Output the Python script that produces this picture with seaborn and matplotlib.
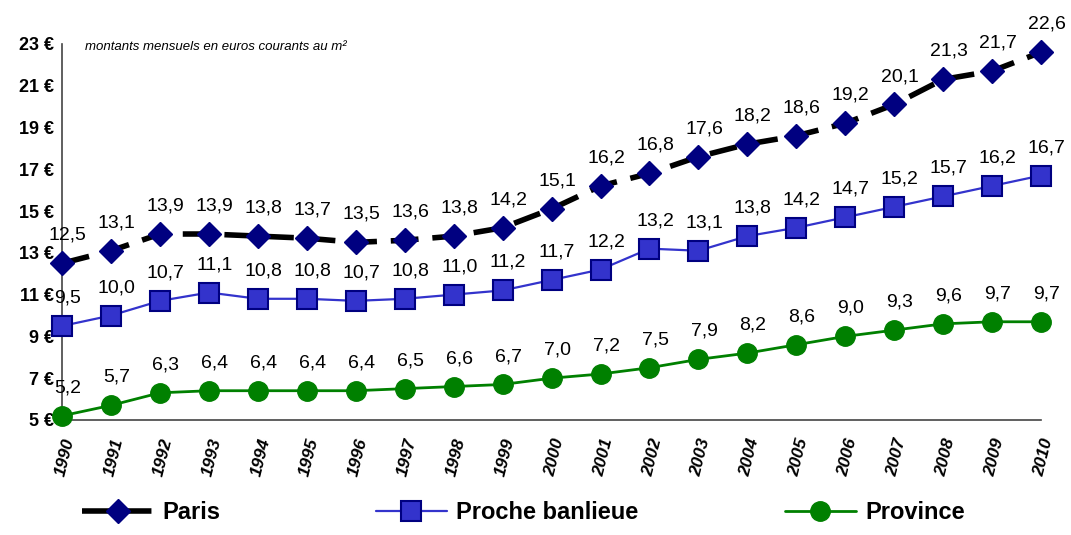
import matplotlib
matplotlib.use("Agg")
import matplotlib.pyplot as plt
import seaborn as sns
import pandas as pd

years = list(range(1990, 2011))
paris = [12.5, 13.1, 13.9, 13.9, 13.8, 13.7, 13.5, 13.6, 13.8, 14.2, 15.1,
         16.2, 16.8, 17.6, 18.2, 18.6, 19.2, 20.1, 21.3, 21.7, 22.6]
banlieue = [9.5, 10.0, 10.7, 11.1, 10.8, 10.8, 10.7, 10.8, 11.0, 11.2, 11.7,
            12.2, 13.2, 13.1, 13.8, 14.2, 14.7, 15.2, 15.7, 16.2, 16.7]
province = [5.2, 5.7, 6.3, 6.4, 6.4, 6.4, 6.4, 6.5, 6.6, 6.7, 7.0,
            7.2, 7.5, 7.9, 8.2, 8.6, 9.0, 9.3, 9.6, 9.7, 9.7]
y_ticks = [5, 7, 9, 11, 13, 15, 17, 19, 21, 23]
subtitle = "montants mensuels en euros courants au m²"

sns.set_style("white")
plt.rcParams["font.family"] = ["Liberation Sans", "DejaVu Sans"]
for k in ["text.color", "axes.labelcolor", "xtick.color", "ytick.color"]:
    plt.rcParams[k] = "black"

df = pd.DataFrame({"year": years, "Paris": paris,
                   "Proche banlieue": banlieue, "Province": province})

fig = plt.figure(figsize=(10.71, 5.35), dpi=100)
ax = fig.add_axes([0.058, 0.215, 0.914, 0.703])

styles = {
    "Paris": dict(color="black", lw=4, ls=(0, (5, 2.5)), marker="D", ms=12,
                  mfc="#000080", mec="#000080"),
    "Proche banlieue": dict(color="#3333CC", lw=1.6, ls="-", marker="s", ms=14,
                            mfc="#3333CC", mec="#000080", mew=1.5),
    "Province": dict(color="#008000", lw=2, ls="-", marker="o", ms=14,
                     mfc="#008000", mec="#008000"),
}

handles = {}
for name, st in styles.items():
    sns.lineplot(data=df, x="year", y=name, ax=ax, color=st["color"],
                 linewidth=st["lw"], linestyle=st["ls"], marker=st["marker"],
                 markersize=st["ms"], markerfacecolor=st["mfc"],
                 markeredgecolor=st["mec"], markeredgewidth=st.get("mew", 1),
                 label=name, clip_on=False, zorder=3)
    handles[name] = ax.lines[-1]
    for x, v in zip(years, df[name]):
        ax.annotate(f"{v:.1f}".replace(".", ","), (x, v), xytext=(4, 14),
                    textcoords="offset points", ha="center", va="bottom",
                    fontsize=14)

if ax.legend_:
    ax.legend_.remove()

ax.set_xlim(1990, 2010)
ax.set_ylim(5, 23)
ax.set_xticks(years)
ax.set_xticklabels([str(y) for y in years], rotation=76, ha="right",
                   rotation_mode="anchor", fontsize=12.5, fontweight="bold",
                   fontstyle="italic")
ax.set_yticks(y_ticks)
ax.set_yticklabels([f"{t} €" for t in y_ticks], fontsize=13, fontweight="bold")
ax.tick_params(axis="x", direction="inout", length=14, width=1, color="black", pad=5)
ax.tick_params(axis="y", direction="inout", length=10, width=1, color="black", pad=1)
ax.set_xlabel("")
ax.set_ylabel("")
for s in ["top", "right"]:
    ax.spines[s].set_visible(False)
for s in ["left", "bottom"]:
    ax.spines[s].set_color("#444444")
    ax.spines[s].set_linewidth(1.2)

fig.text(0.079, 0.912, subtitle, fontsize=9.5, fontstyle="italic",
         ha="left", va="center")

legend_pos = {"Paris": 0.057, "Proche banlieue": 0.331, "Province": 0.713}
for name, xpos in legend_pos.items():
    fig.legend([handles[name]], [name], loc="lower left",
               bbox_to_anchor=(xpos, -0.02), frameon=False, handlelength=3,
               handletextpad=0.4, prop=dict(size=17, weight="bold"))

fig.savefig("out.png", dpi=100)
